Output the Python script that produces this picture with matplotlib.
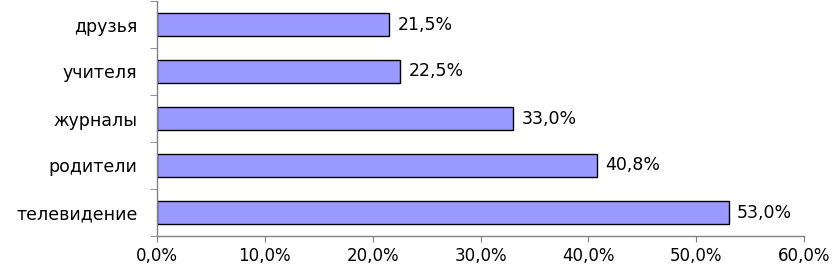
import numpy as np
import matplotlib
matplotlib.use("Agg")
import matplotlib.pyplot as plt
from matplotlib.ticker import FuncFormatter, FixedLocator

categories = ["телевидение", "родители", "журналы", "учителя", "друзья"]
values = [53.0, 40.8, 33.0, 22.5, 21.5]
x_ticks = [0, 10, 20, 30, 40, 50, 60]


def pct(v):
    return f"{v:.1f}%".replace(".", ",")


plt.rcParams["font.family"] = ["DejaVu Sans"]
fig = plt.figure(figsize=(8.37, 2.64), dpi=100)
ax = fig.add_axes([157 / 837, 1 - 236 / 264, (804 - 157) / 837, 235 / 264])

y = np.arange(len(categories))
ax.barh(y, values, height=0.5, color="#9999ff", edgecolor="black", linewidth=1.0)

for yi, v in zip(y, values):
    ax.text(v + 0.8, yi, pct(v), va="center", ha="left", fontsize=12.5)

ax.set_xlim(0, 60)
ax.set_ylim(-0.5, len(categories) - 0.5)
ax.set_xticks(x_ticks)
ax.xaxis.set_major_formatter(FuncFormatter(lambda v, p: pct(v)))
ax.set_yticks(y)
ax.set_yticklabels(categories)
ax.yaxis.set_minor_locator(FixedLocator(np.arange(len(categories) + 1) - 0.5))

ax.tick_params(axis="y", which="major", length=0, pad=14, labelsize=12.5)
ax.tick_params(axis="y", which="minor", length=5, color="#808080", direction="out")
ax.tick_params(axis="x", length=4, color="#808080", pad=4, labelsize=12)

for s in ["top", "right"]:
    ax.spines[s].set_visible(False)
for s in ["left", "bottom"]:
    ax.spines[s].set_color("#808080")
    ax.spines[s].set_linewidth(1.0)

fig.savefig("out.png", dpi=100)
